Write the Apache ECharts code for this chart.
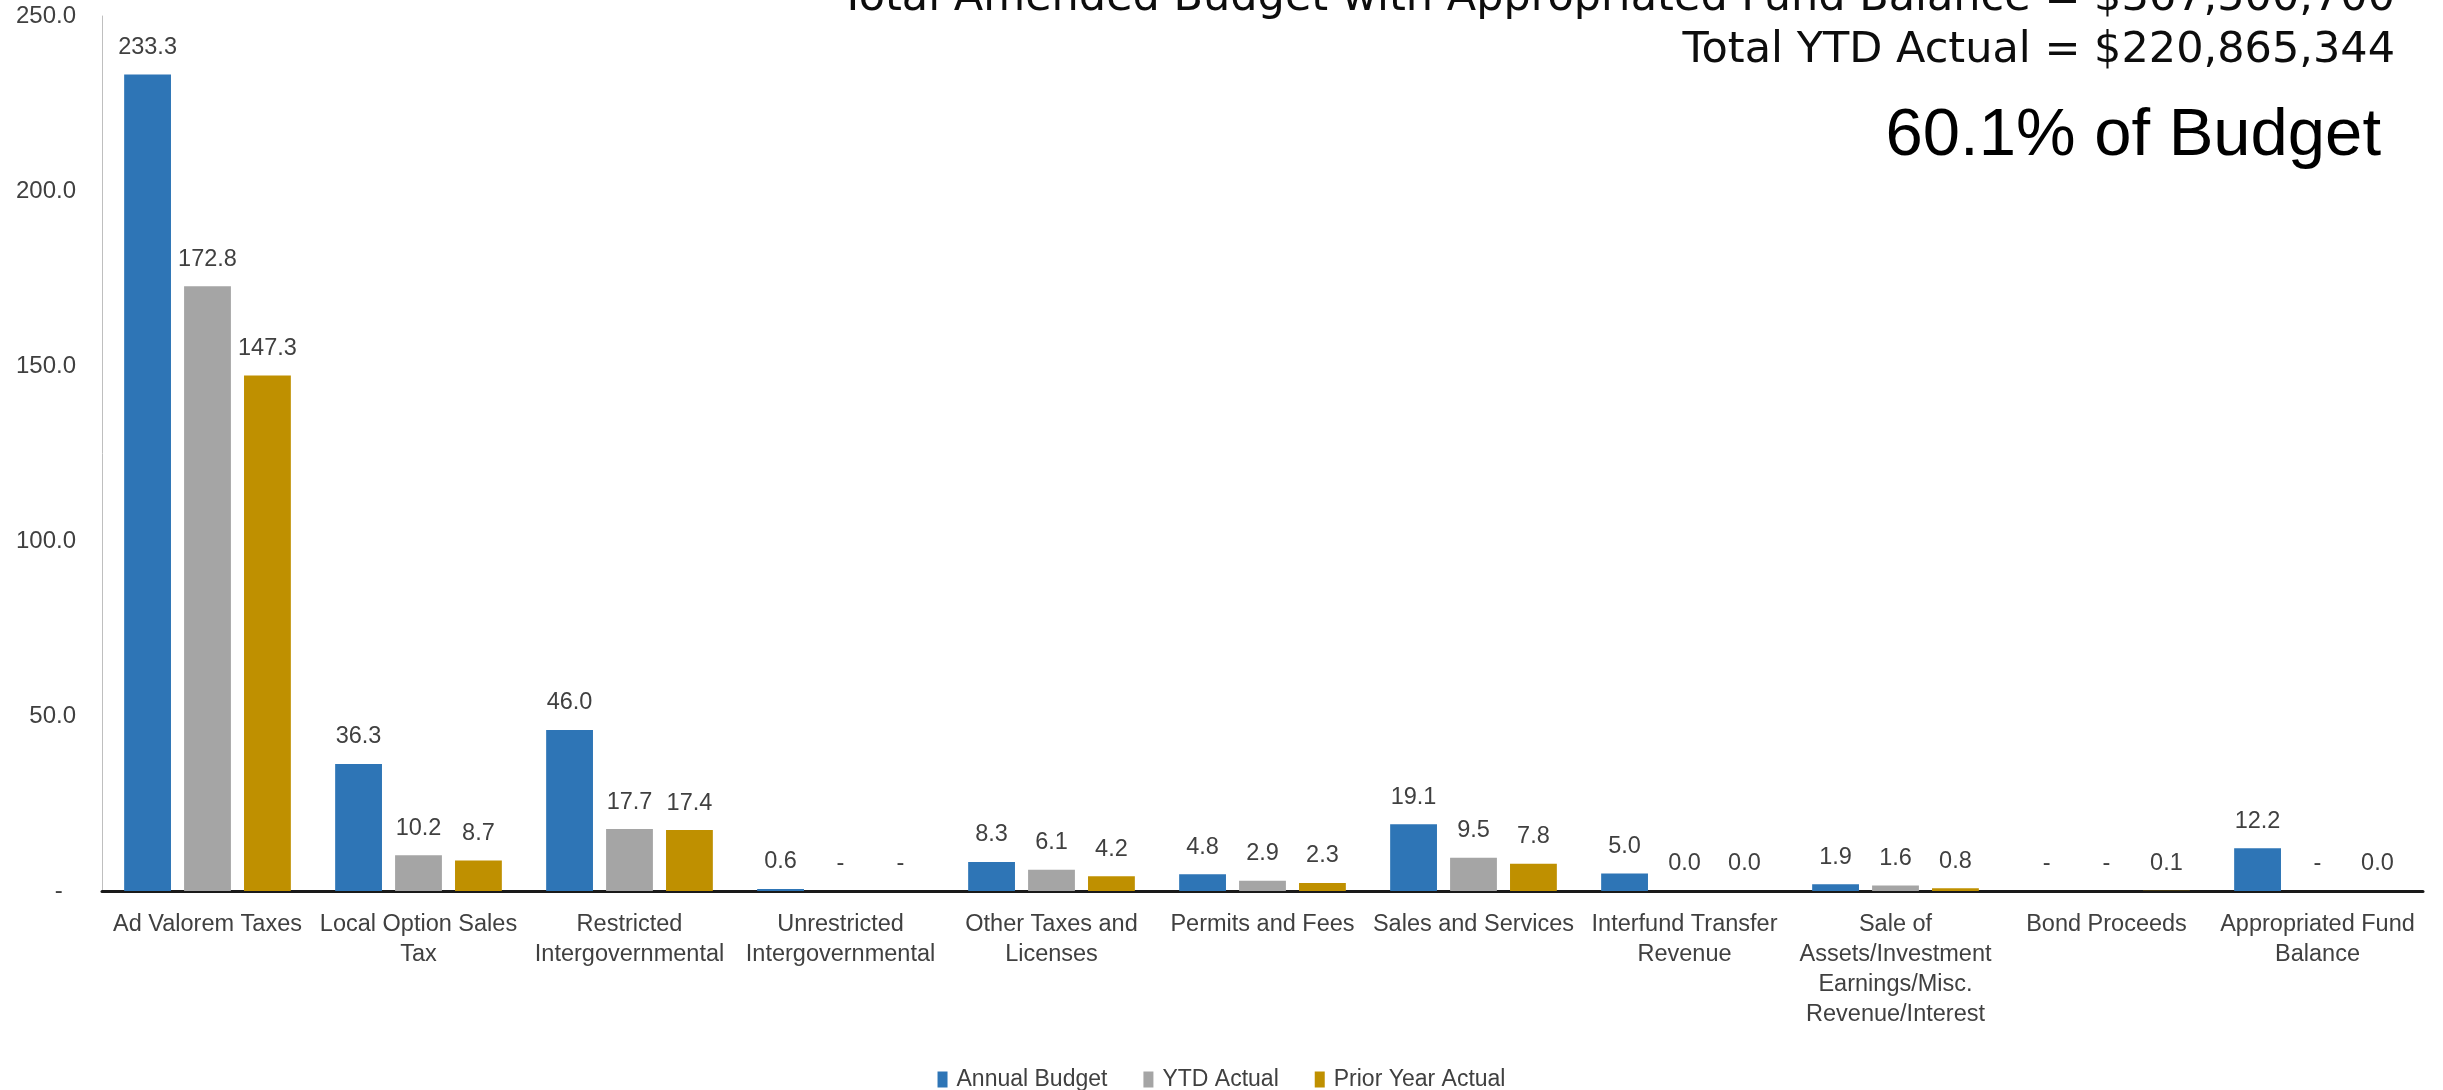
<!DOCTYPE html>
<html>
<head>
<meta charset="utf-8">
<script src="https://cdn.jsdelivr.net/npm/echarts@6/dist/echarts.min.js"></script>
<style>
html,body{margin:0;padding:0;background:#fff;}
#chart{width:2443px;height:1090px;}
</style>
</head>
<body>
<div id="chart"></div>
<script>
var categories = [
  'Ad Valorem Taxes',
  'Local Option Sales\nTax',
  'Restricted\nIntergovernmental',
  'Unrestricted\nIntergovernmental',
  'Other Taxes and\nLicenses',
  'Permits and Fees',
  'Sales and Services',
  'Interfund Transfer\nRevenue',
  'Sale of\nAssets/Investment\nEarnings/Misc.\nRevenue/Interest',
  'Bond Proceeds',
  'Appropriated Fund\nBalance'
];
var annualBudget = [233.3, 36.3, 46.0, 0.6, 8.3, 4.8, 19.1, 5.0, 1.9, 0, 12.2];
var ytdActual    = [172.8, 10.2, 17.7, 0, 6.1, 2.9, 9.5, 0.01, 1.6, 0, 0];
var priorYear    = [147.3, 8.7, 17.4, 0, 4.2, 2.3, 7.8, 0.01, 0.8, 0.1, 0.01];
var seriesNames  = ['Annual Budget', 'YTD Actual', 'Prior Year Actual'];
var titleLine1 = 'Total Amended Budget with Appropriated Fund Balance = $367,500,700';
var titleLine2 = 'Total YTD Actual = $220,865,344';
var titleLine3 = '60.1% of Budget';

var colors = ['#2E75B6', '#A5A5A5', '#BF9000'];
var labelFont = 'Liberation Sans';

function fmt(v) { return v === 0 ? '-' : v.toFixed(1); }

function mkSeries(name, data, color) {
  return {
    name: name,
    type: 'bar',
    data: data,
    barGap: '28%',
    barCategoryGap: '21%',
    itemStyle: { color: color },
    label: {
      show: true,
      position: 'top',
      distance: 15,
      fontFamily: labelFont,
      fontSize: 23.5,
      color: '#404040',
      formatter: function (p) { return fmt(p.value); }
    }
  };
}

var chart = echarts.init(document.getElementById('chart'), null, { renderer: 'canvas' });
chart.setOption({
  animation: false,
  backgroundColor: '#ffffff',
  grid: { left: 102, right: 20, top: 16, bottom: 199, containLabel: false },
  legend: {
    data: seriesNames,
    top: 1063,
    left: 'center',
    itemWidth: 10,
    itemHeight: 16,
    itemGap: 36,
    icon: 'rect',
    textStyle: { fontFamily: labelFont, fontSize: 23, color: '#404040', padding: [0, 0, 0, 4] }
  },
  xAxis: {
    type: 'category',
    data: categories,
    axisLine: { show: true, lineStyle: { color: '#1a1a1a', width: 3 } },
    axisTick: { show: false },
    axisLabel: {
      interval: 0,
      margin: 19,
      fontFamily: labelFont,
      fontSize: 23.5,
      lineHeight: 30,
      color: '#404040'
    }
  },
  yAxis: {
    type: 'value',
    min: 0,
    max: 250,
    interval: 50,
    axisLine: { show: true, lineStyle: { color: '#BFBFBF', width: 1 } },
    axisTick: { show: false },
    splitLine: { show: false },
    axisLabel: {
      margin: 26,
      fontFamily: labelFont,
      fontSize: 24,
      color: '#404040',
      padding: [10, 0, 0, 0],
      formatter: function (v) { return v === 0 ? '-  ' : v.toFixed(1); }
    }
  },
  series: [
    mkSeries(seriesNames[0], annualBudget, colors[0]),
    mkSeries(seriesNames[1], ytdActual, colors[1]),
    mkSeries(seriesNames[2], priorYear, colors[2])
  ],
  graphic: [
    { type: 'text', right: 48, top: -23, style: { text: titleLine1, fontFamily: 'DejaVu Sans', fontSize: 43, fill: '#0d0d0d', textAlign: 'right' } },
    { type: 'text', right: 48, top: 29, style: { text: titleLine2, fontFamily: 'DejaVu Sans', fontSize: 43, fill: '#0d0d0d', textAlign: 'right' } },
    { type: 'text', right: 62, top: 103, style: { text: titleLine3, fontFamily: 'Liberation Sans', fontSize: 67, fill: '#000000', textAlign: 'right' } }
  ]
});
</script>
</body>
</html>
